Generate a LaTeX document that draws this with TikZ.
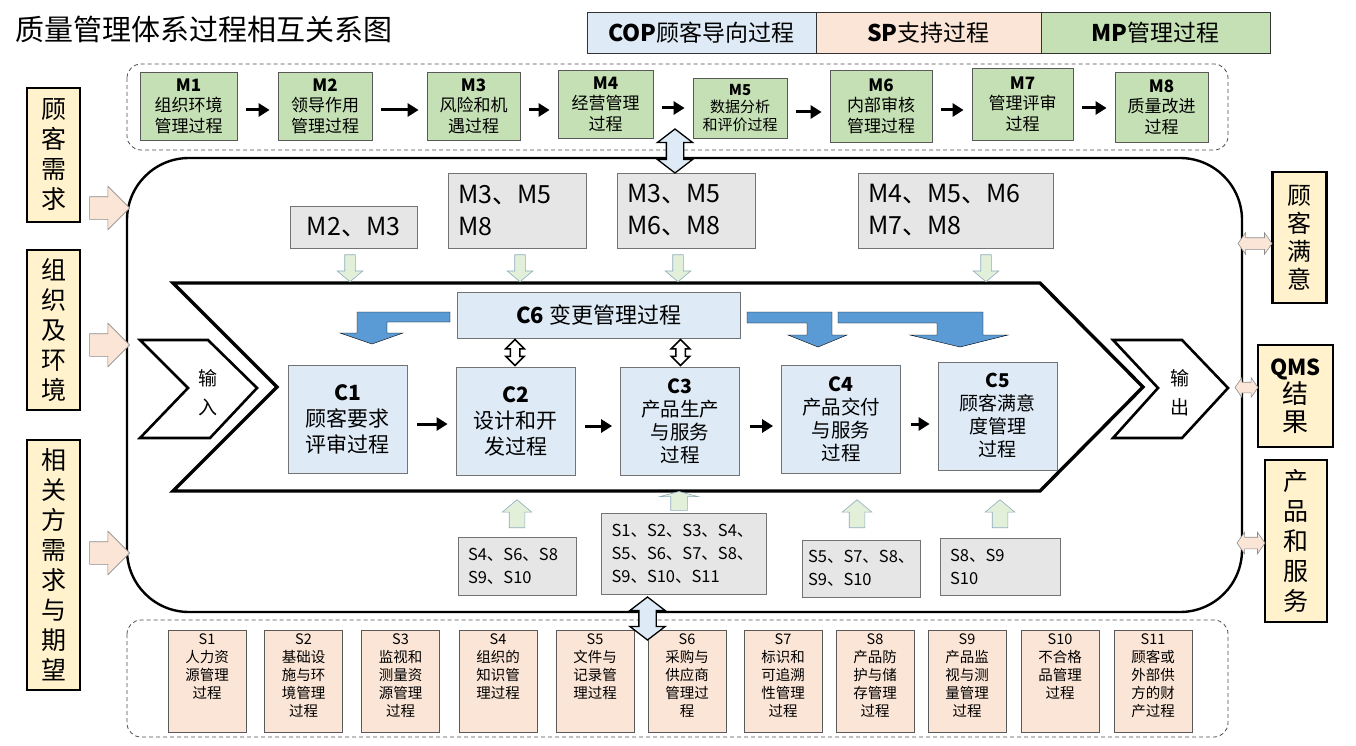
\documentclass[tikz,border=0pt]{standalone}
\usepackage{fontspec}
\setmainfont{Noto Sans CJK SC}
\usetikzlibrary{arrows.meta, shapes.arrows}
\definecolor{copblue}{HTML}{DEEBF7}
\definecolor{sppeach}{HTML}{FBE5D6}
\definecolor{mpgreen}{HTML}{C5E0B4}
\definecolor{needyellow}{HTML}{FFF2CC}
\definecolor{refgray}{HTML}{E7E6E6}
\definecolor{flowblue}{HTML}{5B9BD5}
\definecolor{hintgreen}{HTML}{E2F0D9}
\definecolor{hintedge}{HTML}{8FAAC0}
\newcommand{\sprocess}[1]{\parbox[c][94pt][t]{76pt}{\centering #1}}

\begin{document}
\begin{tikzpicture}[x=1pt, y=-1pt,
    every node/.style = {inner sep=0pt, align=center},
    legendbox/.style  = {draw=black!80, line width=0.8pt, minimum height=41pt,
                         font=\fontsize{23}{23}\selectfont},
    mbox/.style       = {draw=black!65, line width=0.8pt, fill=mpgreen,
                         minimum height=68pt, font=\fontsize{17}{20.5}\selectfont},
    cbox/.style       = {draw=black!55, line width=0.8pt, fill=copblue,
                         minimum width=119pt, minimum height=108pt,
                         font=\fontsize{21}{26}\selectfont},
    sbox/.style       = {draw=black!65, line width=0.8pt, fill=sppeach,
                         minimum width=78pt, minimum height=102pt,
                         font=\fontsize{14.5}{18}\selectfont},
    refbox/.style     = {draw=black!55, line width=0.8pt, fill=refgray,
                         align=left, inner xsep=10pt},
    needbox/.style    = {draw=black, line width=2.6pt, fill=needyellow,
                         font=\fontsize{25}{30}\selectfont},
    groupline/.style  = {draw=black!70, line width=0.8pt, dash pattern=on 4pt off 3pt,
                         rounded corners=14pt},
    arr/.style        = {-{Triangle[length=11pt, width=13pt]}, line width=3pt,
                         shorten <=9pt, shorten >=8pt},
    inarrow/.style    = {single arrow, draw=black!45, fill=sppeach, line width=0.6pt,
                         minimum height=40pt, inner sep=11pt,
                         single arrow head extend=10.5pt},
    outarrow/.style   = {double arrow, draw=black!45, fill=sppeach, line width=0.6pt,
                         inner sep=5.5pt, double arrow head extend=5pt,
                         double arrow tip angle=110},
    downhint/.style   = {single arrow, draw=hintedge, fill=hintgreen, line width=0.6pt,
                         minimum height=27pt, inner sep=5pt, single arrow head extend=7.5pt,
                         single arrow tip angle=100, shape border rotate=270},
    uphint/.style     = {single arrow, draw=hintedge, fill=hintgreen, line width=0.6pt,
                         minimum height=28pt, inner sep=7.5pt, single arrow head extend=7pt,
                         single arrow tip angle=100, shape border rotate=90},
    linkarrow/.style  = {double arrow, draw=black, fill=copblue, line width=1.3pt,
                         minimum height=44pt, inner sep=8pt, double arrow head extend=9pt,
                         double arrow tip angle=105, shape border rotate=90},
    tiearrow/.style   = {double arrow, draw=black, fill=white, line width=1.5pt,
                         minimum height=26pt, inner sep=4pt, double arrow head extend=4.5pt,
                         shape border rotate=90},
    flow/.style       = {fill=flowblue},
]
\useasboundingbox (0,0) rectangle (1356,746);

% Title and legend
\node[font=\fontsize{29}{29}\selectfont] (title) at (204,29) {质量管理体系过程相互关系图};
\node[legendbox, fill=copblue, minimum width=229pt] (COP) at (701.5,32.5) {\textbf{COP}顾客导向过程};
\node[legendbox, fill=sppeach, minimum width=225pt] (SP)  at (928.5,32.5) {\textbf{SP}支持过程};
\node[legendbox, fill=mpgreen, minimum width=229pt] (MP)  at (1155.5,32.5) {\textbf{MP}管理过程};

% Management processes
\draw[groupline] (127,64) rectangle (1228,150);
\node[mbox, minimum width=97pt]  (M1) at (188.5,106) {\textbf{M1}\\组织环境\\管理过程};
\node[mbox, minimum width=94pt]  (M2) at (325,106)   {\textbf{M2}\\领导作用\\管理过程};
\node[mbox, minimum width=93pt]  (M3) at (473.5,106) {\textbf{M3}\\风险和机\\遇过程};
\node[mbox, minimum width=95pt]  (M4) at (605.5,104) {\textbf{M4}\\经营管理\\过程};
\node[mbox, minimum width=94pt, minimum height=60pt,
      font=\fontsize{15}{17.5}\selectfont] (M5) at (740,108) {\textbf{M5}\\数据分析\\和评价过程};
\node[mbox, minimum width=102pt, minimum height=72pt] (M6) at (881,106) {\textbf{M6}\\内部审核\\管理过程};
\node[mbox, minimum width=101pt, minimum height=72pt] (M7) at (1022.5,104) {\textbf{M7}\\管理评审\\过程};
\node[mbox, minimum width=93pt, minimum height=70pt]  (M8) at (1161.5,107) {\textbf{M8}\\质量改进\\过程};
\foreach \a/\b in {M1/M2, M2/M3, M3/M4, M4/M5, M5/M6, M6/M7, M7/M8}{
  \draw[arr] ([yshift=-4pt]\a.east) -- ([yshift=-4pt]\a.east -| \b.west);
}

% System boundary
\draw[line width=2.4pt, rounded corners=62pt] (127,158) rectangle (1242,612);

% Needs and results
\node[needbox, minimum width=53pt, minimum height=134pt] (need1) at (53.5,155) {顾\\客\\需\\求};
\node[needbox, minimum width=53pt, minimum height=160pt] (need2) at (53.5,330) {组\\织\\及\\环\\境};
\node[needbox, minimum width=53pt, minimum height=250pt] (need3) at (53.5,565) {相\\关\\方\\需\\求\\与\\期\\望};
\node[needbox, minimum width=54pt, minimum height=131pt,
      font=\fontsize{24}{28}\selectfont] (res1) at (1299.5,237.5) {顾\\客\\满\\意};
\node[needbox, minimum width=75pt, minimum height=102pt,
      font=\fontsize{26}{28}\selectfont] (res2) at (1295.5,396) {{\fontsize{22}{24}\selectfont\textbf{QMS}}\\结\\果};
\node[needbox, minimum width=62pt, minimum height=162pt] (res3) at (1296,541) {产\\品\\和\\服\\务};

\node[inarrow] (in1) at (104,208) {};
\node[inarrow] (in2) at (104,345) {};
\node[inarrow] (in3) at (104,553) {};
\node[outarrow, minimum height=34pt] (out1) at (1255,243.5) {};
\node[outarrow, minimum height=23pt, inner sep=5pt, double arrow head extend=4.5pt] (out2) at (1246.5,387.5) {};
\node[outarrow, minimum height=28pt] (out3) at (1251,543) {};

% Core process chevron
\draw[line width=3.4pt, miter limit=20]
  (173,283) -- (1040,283) -- (1143,387) -- (1040,491) -- (173,491) -- (277,387) -- cycle;
\draw[line width=2.6pt, fill=white]
  (140,340) -- (208,340) -- (257,388) -- (210,438) -- (140,438) -- (188,388) -- cycle;
\draw[line width=2.6pt, fill=white]
  (1113,340) -- (1182,340) -- (1228,388) -- (1182,438) -- (1113,438) -- (1158,388) -- cycle;
\node[font=\fontsize{19}{29}\selectfont] (input)  at (208,393) {输\\入};
\node[font=\fontsize{19}{29}\selectfont] (output) at (1180,393) {输\\出};

% Customer oriented processes
\node[cbox] (C1) at (347.5,419) {\textbf{C1}\\顾客要求\\评审过程};
\node[cbox] (C2) at (515.5,421) {\textbf{C2}\\设计和开\\发过程};
\node[cbox, font=\fontsize{19.5}{23}\selectfont] (C3) at (680,421) {\textbf{C3}\\产品生产\\与服务\\过程};
\node[cbox, font=\fontsize{19.5}{23}\selectfont] (C4) at (841,419) {\textbf{C4}\\产品交付\\与服务\\过程};
\node[cbox, font=\fontsize{19}{23}\selectfont]   (C5) at (997.5,416) {\textbf{C5}\\顾客满意\\度管理\\过程};
\node[draw=black!55, line width=0.8pt, fill=copblue, minimum width=283pt, minimum height=46pt,
      font=\fontsize{22}{22}\selectfont] (C6) at (598.5,315) {\textbf{C6} 变更管理过程};
\foreach \a/\b in {C1/C2, C2/C3, C3/C4, C4/C5}{
  \draw[arr, shorten <=10pt, shorten >=8pt] ([yshift=-5pt]\a.east) -- ([yshift=-5pt]\a.east -| \b.west);
}
\node[tiearrow] (tie2) at (515,352.5) {};
\node[tiearrow] (tie3) at (680.5,352.5) {};

% Change flows
\draw[flow] (450,312) -- (357,312) -- (357,333) -- (340,333) -- (372,344)
  -- (403,333) -- (387,333) -- (387,322) -- (450,322) -- cycle;
\draw[flow] (747,312) -- (832,312) -- (832,335) -- (847,335) -- (818,347)
  -- (788,335) -- (807,335) -- (807,323) -- (747,323) -- cycle;
\draw[flow] (838,312) -- (983,312) -- (983,335) -- (1008,335) -- (960,347)
  -- (910,335) -- (937,335) -- (937,323) -- (838,323) -- cycle;

% Management inputs
\node[refbox, minimum width=127pt, minimum height=42pt, align=center,
      font=\fontsize{25}{32}\selectfont] (G1) at (353.5,227) {M2、M3};
\node[refbox, text width=118pt, minimum height=75pt,
      font=\fontsize{25}{32}\selectfont] (G2) at (517,210.5) {M3、M5\\M8};
\node[refbox, text width=118pt, minimum height=75pt,
      font=\fontsize{25}{32}\selectfont] (G3) at (686,210.5) {M3、M5\\M6、M8};
\node[refbox, text width=175pt, minimum height=75pt,
      font=\fontsize{25}{32}\selectfont] (G4) at (955.5,210.5) {M4、M5、M6\\M7、M8};
\node[downhint] (g1) at (350,266) {};
\node[downhint] (g2) at (520,266) {};
\node[downhint] (g3) at (678,266) {};
\node[downhint] (g4) at (986,266) {};
\node[linkarrow] (mlink) at (675,151) {};

% Support inputs
\node[refbox, text width=98pt, minimum height=58pt,
      font=\fontsize{16.5}{23}\selectfont] (H1) at (517,566) {S4、S6、S8\\S9、S10};
\node[refbox, text width=145pt, minimum height=81pt,
      font=\fontsize{16.5}{23}\selectfont] (H2) at (684,554) {S1、S2、S3、S4、\\S5、S6、S7、S8、\\S9、S10、S11};
\node[refbox, text width=106pt, minimum height=57pt, inner xsep=6pt,
      font=\fontsize{16.5}{23}\selectfont] (H3) at (861,568.5) {S5、S7、S8、\\S9、S10};
\node[refbox, text width=100pt, minimum height=57pt,
      font=\fontsize{16.5}{23}\selectfont] (H4) at (1000,566.5) {S8、S9\\S10};
\node[uphint] (h1) at (517,517) {};
\node[uphint, minimum height=16pt, inner sep=8pt, single arrow head extend=11pt,
      single arrow tip angle=150] (h2) at (679,502) {};
\node[uphint] (h3) at (857,517) {};
\node[uphint] (h4) at (1000,517) {};

% Support processes
\draw[groupline] (127,620) rectangle (1228,737);
\node[sbox] (S1)  at (207,681)  {\sprocess{S1\\人力资\\源管理\\过程}};
\node[sbox] (S2)  at (303.5,681) {\sprocess{S2\\基础设\\施与环\\境管理\\过程}};
\node[sbox] (S3)  at (400.5,681) {\sprocess{S3\\监视和\\测量资\\源管理\\过程}};
\node[sbox] (S4)  at (498,681)  {\sprocess{S4\\组织的\\知识管\\理过程}};
\node[sbox] (S5)  at (595,681)  {\sprocess{S5\\文件与\\记录管\\理过程}};
\node[sbox] (S6)  at (687,681)  {\sprocess{S6\\采购与\\供应商\\管理过\\程}};
\node[sbox] (S7)  at (783,681)  {\sprocess{S7\\标识和\\可追溯\\性管理\\过程}};
\node[sbox] (S8)  at (875,681)  {\sprocess{S8\\产品防\\护与储\\存管理\\过程}};
\node[sbox] (S9)  at (967,681)  {\sprocess{S9\\产品监\\视与测\\量管理\\过程}};
\node[sbox] (S10) at (1060,681) {\sprocess{S10\\不合格\\品管理\\过程}};
\node[sbox] (S11) at (1153,681) {\sprocess{S11\\顾客或\\外部供\\方的财\\产过程}};
\node[linkarrow, minimum height=43pt] (slink) at (647.5,618.5) {};

\end{tikzpicture}
\end{document}
